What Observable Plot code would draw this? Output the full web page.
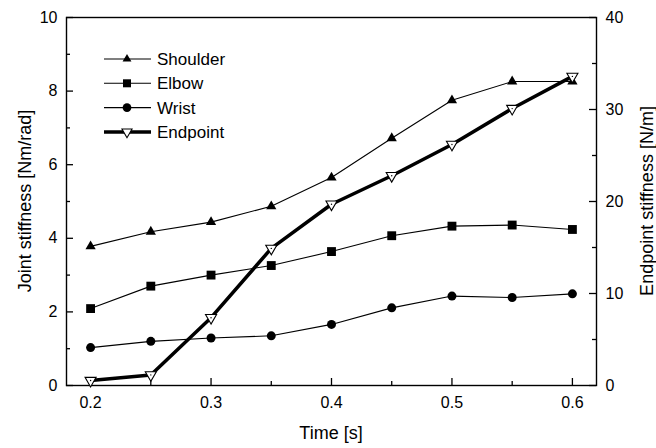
<!DOCTYPE html>
<html>
<head>
<meta charset="utf-8">
<script src="https://cdn.jsdelivr.net/npm/d3@7"></script>
<script src="https://cdn.jsdelivr.net/npm/@observablehq/plot@0.6"></script>
<style>
  html, body { margin: 0; padding: 0; background: #fff; }
  #chart { width: 656px; height: 448px; }
</style>
</head>
<body>
<div id="chart"></div>
<script>
// ---- data ----
const times    = [0.2, 0.25, 0.3, 0.35, 0.4, 0.45, 0.5, 0.55, 0.6];
const shoulder = [3.78, 4.18, 4.44, 4.87, 5.65, 6.72, 7.75, 8.26, 8.26];
const elbow    = [2.09, 2.70, 3.00, 3.26, 3.64, 4.07, 4.33, 4.36, 4.24];
const wrist    = [1.03, 1.20, 1.29, 1.35, 1.66, 2.11, 2.43, 2.39, 2.49];
const endpoint = [0.54, 1.15, 7.37, 14.9, 19.7, 22.8, 26.2, 30.1, 33.6]; // N/m, right axis

const seriesNames = ["Shoulder", "Elbow", "Wrist", "Endpoint"];
const xTicks = [0.2, 0.3, 0.4, 0.5, 0.6];
const xMinor = [0.25, 0.35, 0.45, 0.55];
const yTicks = [0, 2, 4, 6, 8, 10];
const yMinor = [1, 3, 5, 7, 9];
const yRightTicks = [0, 10, 20, 30, 40];
const yRightMinor = [5, 15, 25, 35];
const xTitle = "Time [s]";
const yTitle = "Joint stiffness [Nm/rad]";
const yRightTitle = "Endpoint stiffness [N/m]";
const leftMax = 10, rightMax = 40;
const ratio = rightMax / leftMax;

const toRows = (vals) => times.map((t, i) => ({t, v: vals[i]}));
const sh = toRows(shoulder), el = toRows(elbow), wr = toRows(wrist);
const ep = times.map((t, i) => ({t, v: endpoint[i] / ratio}));

// inverted triangle symbol
const triDown = {
  draw(ctx, size) {
    const y = Math.sqrt(size / (3 * Math.sqrt(3)));
    const s3 = Math.sqrt(3);
    ctx.moveTo(0, 2 * y);
    ctx.lineTo(-s3 * y, -y);
    ctx.lineTo(s3 * y, -y);
    ctx.closePath();
  }
};

const font = "'Liberation Sans', Arial, Helvetica, sans-serif";
const W = 656, H = 448, ML = 66, MR = 60, MT = 17, MB = 63;
const FW = W - ML - MR, FH = H - MT - MB;
const MAJ = 7, MIN = 4;
const tickColor = "#000";

const chart = Plot.plot({
  width: W,
  height: H,
  marginLeft: ML,
  marginRight: MR,
  marginTop: MT,
  marginBottom: MB,
  style: {fontFamily: font, fontSize: "16px", color: "#000", background: "#fff"},
  x: {domain: [0.18, 0.62]},
  y: {domain: [0, leftMax]},
  marks: [
    Plot.frame({stroke: "#000", strokeWidth: 1.4}),
    // inward ticks
    Plot.tickX(xTicks, {x: d => d, insetTop: FH - MAJ, stroke: tickColor, strokeWidth: 1.3}),
    Plot.tickX(xMinor, {x: d => d, insetTop: FH - MIN, stroke: tickColor, strokeWidth: 1.3}),
    Plot.tickY(yTicks, {y: d => d, insetRight: FW - MAJ, stroke: tickColor, strokeWidth: 1.3}),
    Plot.tickY(yMinor, {y: d => d, insetRight: FW - MIN, stroke: tickColor, strokeWidth: 1.3}),
    Plot.tickY(yRightTicks, {y: d => d / ratio, insetLeft: FW - MAJ, stroke: tickColor, strokeWidth: 1.3}),
    Plot.tickY(yRightMinor, {y: d => d / ratio, insetLeft: FW - MIN, stroke: tickColor, strokeWidth: 1.3}),
    // tick labels
    Plot.axisX(xTicks, {anchor: "bottom", tickSize: 0, tickPadding: 11, tickFormat: d => d.toFixed(1), label: null, fontSize: 16}),
    Plot.axisY(yTicks, {anchor: "left", tickSize: 0, tickPadding: 9, label: null, fontSize: 16}),
    Plot.axisY(yRightTicks.map(v => v / ratio), {anchor: "right", tickSize: 0, tickPadding: 9, tickFormat: d => d * ratio, label: null, fontSize: 16}),
    // series
    Plot.line(sh, {x: "t", y: "v", stroke: "#000", strokeWidth: 1.1}),
    Plot.line(el, {x: "t", y: "v", stroke: "#000", strokeWidth: 1.1}),
    Plot.line(wr, {x: "t", y: "v", stroke: "#000", strokeWidth: 1.1}),
    Plot.dot(sh, {x: "t", y: "v", symbol: "triangle", r: 3.8, fill: "#000", stroke: "none"}),
    Plot.dot(el, {x: "t", y: "v", symbol: "square", r: 5, fill: "#000", stroke: "none"}),
    Plot.dot(wr, {x: "t", y: "v", symbol: "circle", r: 4.5, fill: "#000", stroke: "none"}),
    Plot.line(ep, {x: "t", y: "v", stroke: "#000", strokeWidth: 3.5}),
    Plot.dot(ep, {x: "t", y: "v", symbol: triDown, r: 4.1, fill: "#fff", stroke: "#000", strokeWidth: 1.1}),
    Plot.dot(ep, {x: "t", y: "v", r: 0.7, fill: "#000", stroke: "none"})
  ]
});

document.getElementById("chart").appendChild(chart);

const svg = d3.select(chart);
const xs = chart.scale("x"), ys = chart.scale("y");
const plotMidY = (ys.apply(0) + ys.apply(leftMax)) / 2;
const plotMidX = (xs.apply(0.18) + xs.apply(0.62)) / 2;

// axis titles
const titles = svg.append("g").attr("font-family", font).attr("font-size", 18)
  .attr("fill", "#000").attr("text-anchor", "middle");
titles.append("text").attr("transform", `translate(${plotMidX},${ys.apply(0) + 48})`)
  .attr("dy", "0.35em").text(xTitle);
titles.append("text").attr("transform", `translate(25,${plotMidY}) rotate(-90)`)
  .attr("dy", "0.35em").text(yTitle);
titles.append("text").attr("transform", `translate(647,${plotMidY}) rotate(-90)`)
  .attr("dy", "0.35em").text(yRightTitle);

// legend (inside the plot, top-left)
const lg = svg.append("g").attr("font-family", font).attr("font-size", 17).attr("text-anchor", "start");
const legendItems = [
  {name: seriesNames[0], sym: d3.symbolTriangle, size: 34, fill: "#000", sw: 1.1},
  {name: seriesNames[1], sym: d3.symbolSquare, size: 64, fill: "#000", sw: 1.1},
  {name: seriesNames[2], sym: d3.symbolCircle, size: 60, fill: "#000", sw: 1.1},
  {name: seriesNames[3], sym: triDown, size: 44, fill: "#fff", sw: 3.5}
];
legendItems.forEach((it, i) => {
  const y = 59 + i * 24.3;
  const g = lg.append("g").attr("transform", `translate(0,${y})`);
  g.append("line").attr("x1", 104).attr("x2", 151).attr("y1", 0).attr("y2", 0)
    .attr("stroke", "#000").attr("stroke-width", it.sw);
  g.append("path").attr("transform", "translate(127,0)")
    .attr("d", d3.symbol(it.sym, it.size)())
    .attr("fill", it.fill).attr("stroke", it.fill === "#fff" ? "#000" : "none").attr("stroke-width", 1.1);
  g.append("text").attr("x", 157).attr("y", 0).attr("dy", "0.35em").attr("fill", "#000").text(it.name);
});
</script>
</body>
</html>
